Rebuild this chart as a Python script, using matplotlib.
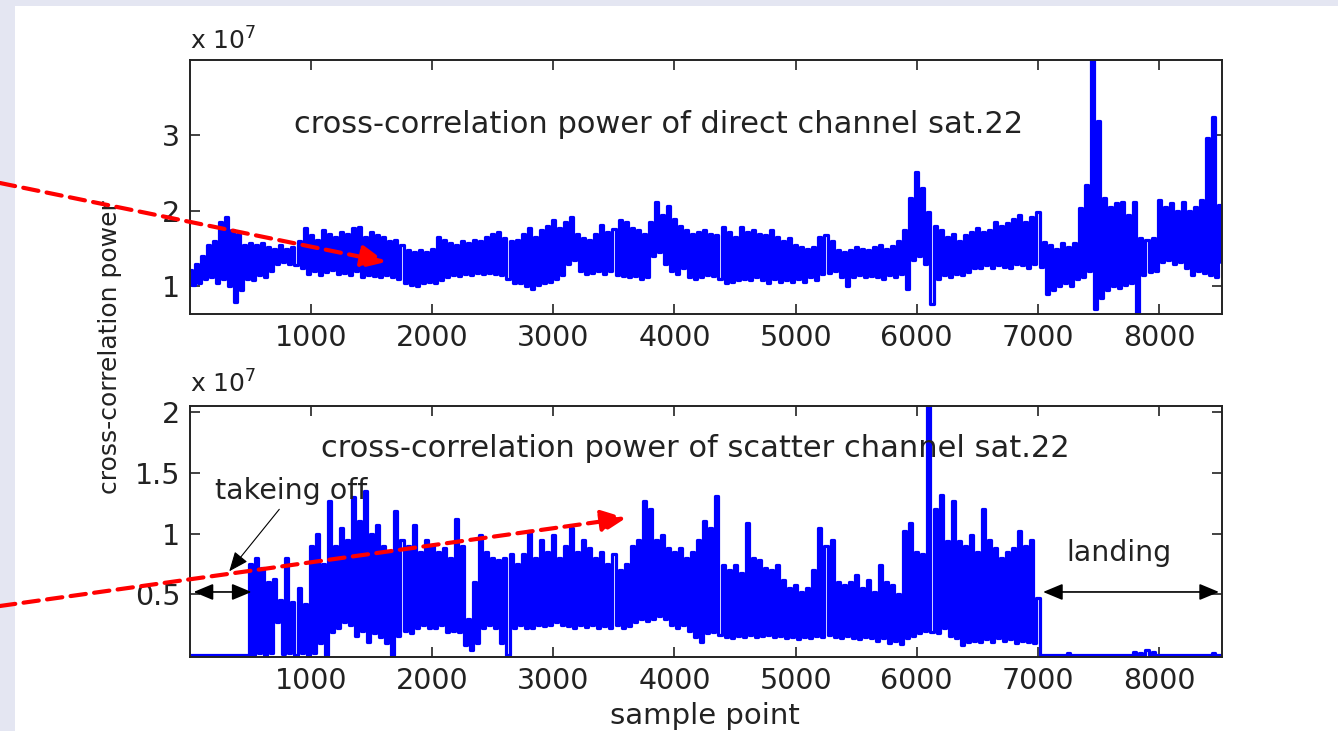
import numpy as np
import matplotlib.pyplot as plt
from matplotlib.patches import Rectangle, FancyArrowPatch

plt.rcParams["font.family"] = "DejaVu Sans"
plt.rcParams["mathtext.default"] = "regular"

# traces, one value every 25 samples, units of 1e7
sample_step = 25
direct_power = [
    1.22, 1.02, 1.30, 1.05, 1.40, 1.10, 1.55, 1.12, 1.60, 1.05, 1.85, 1.10, 1.92, 1.00, 1.75, 0.80, 1.70, 0.95, 1.55, 1.10,
    1.58, 1.08, 1.55, 1.15, 1.58, 1.12, 1.52, 1.20, 1.50, 1.30, 1.55, 1.32, 1.50, 1.30, 1.52, 1.28, 1.60, 1.25, 1.77, 1.17,
    1.68, 1.20, 1.62, 1.15, 1.75, 1.19, 1.70, 1.22, 1.66, 1.17, 1.72, 1.18, 1.70, 1.15, 1.78, 1.20, 1.79, 1.12, 1.65, 1.15,
    1.72, 1.14, 1.68, 1.12, 1.66, 1.15, 1.60, 1.12, 1.62, 1.10, 1.55, 1.05, 1.48, 1.02, 1.45, 1.01, 1.48, 1.04, 1.45, 1.06,
    1.50, 1.04, 1.66, 1.08, 1.62, 1.12, 1.58, 1.15, 1.55, 1.14, 1.60, 1.16, 1.58, 1.15, 1.62, 1.18, 1.60, 1.16, 1.65, 1.18,
    1.70, 1.17, 1.72, 1.15, 1.64, 1.10, 1.60, 1.05, 1.62, 1.04, 1.70, 1.00, 1.77, 0.97, 1.65, 1.02, 1.75, 1.04, 1.80, 1.06,
    1.88, 1.10, 1.78, 1.15, 1.85, 1.30, 1.92, 1.35, 1.70, 1.20, 1.64, 1.17, 1.62, 1.18, 1.70, 1.20, 1.81, 1.17, 1.72, 1.20,
    1.76, 1.15, 1.88, 1.14, 1.85, 1.12, 1.78, 1.14, 1.75, 1.10, 1.70, 1.12, 1.85, 1.40, 2.12, 1.45, 1.95, 1.30, 2.06, 1.20,
    1.90, 1.17, 1.80, 1.25, 1.75, 1.12, 1.70, 1.10, 1.72, 1.12, 1.75, 1.15, 1.70, 1.14, 1.68, 1.10, 1.79, 1.04, 1.72, 1.06,
    1.65, 1.08, 1.79, 1.10, 1.72, 1.08, 1.75, 1.12, 1.70, 1.08, 1.68, 1.04, 1.75, 1.10, 1.65, 1.06, 1.60, 1.08, 1.64, 1.06,
    1.55, 1.10, 1.52, 1.06, 1.50, 1.12, 1.52, 1.08, 1.65, 1.16, 1.68, 1.18, 1.60, 1.20, 1.48, 1.12, 1.45, 1.01, 1.48, 1.12,
    1.52, 1.15, 1.50, 1.12, 1.48, 1.14, 1.52, 1.12, 1.55, 1.10, 1.50, 1.15, 1.54, 1.12, 1.60, 1.16, 1.75, 0.97, 2.17, 1.35,
    2.52, 1.40, 2.30, 1.30, 1.99, 0.77, 1.80, 1.10, 1.75, 1.15, 1.65, 1.12, 1.69, 1.17, 1.60, 1.15, 1.68, 1.19, 1.72, 1.24,
    1.77, 1.25, 1.72, 1.28, 1.75, 1.24, 1.86, 1.28, 1.80, 1.26, 1.84, 1.25, 1.90, 1.30, 1.95, 1.28, 1.85, 1.24, 1.92, 1.30,
    1.99, 1.26, 1.59, 0.90, 1.55, 0.95, 1.50, 1.01, 1.57, 1.05, 1.52, 1.01, 1.57, 1.10, 2.04, 1.12, 2.35, 1.20, 4.00, 0.70,
    3.19, 0.85, 2.17, 0.95, 2.05, 1.01, 2.10, 0.98, 2.12, 1.02, 1.95, 1.05, 2.12, 0.63, 1.64, 1.15, 1.62, 1.19, 1.64, 1.20,
    2.15, 1.32, 2.05, 1.35, 2.10, 1.30, 2.00, 1.32, 2.12, 1.25, 2.00, 1.15, 2.05, 1.20, 2.15, 1.18, 2.97, 1.15, 3.24, 1.12,
    2.08, 1.32,
]
scatter_power = [
    0.00, 0.00, 0.00, 0.00, 0.00, 0.00, 0.00, 0.00, 0.00, 0.00, 0.00, 0.00, 0.00, 0.00, 0.00, 0.00, 0.00, 0.00, 0.00, 0.00,
    0.75, 0.00, 0.80, 0.02, 0.72, 0.00, 0.60, 0.02, 0.63, 0.27, 0.45, 0.01, 0.80, 0.02, 0.44, 0.00, 0.55, 0.02, 0.42, 0.00,
    0.90, 0.02, 1.00, 0.10, 0.75, 0.00, 1.27, 0.19, 0.90, 0.22, 1.05, 0.27, 0.95, 0.25, 1.30, 0.16, 1.10, 0.20, 1.35, 0.11,
    1.00, 0.18, 1.07, 0.15, 0.90, 0.10, 0.85, 0.00, 1.19, 0.16, 0.95, 0.20, 0.90, 0.18, 1.07, 0.22, 0.85, 0.25, 0.95, 0.22,
    0.91, 0.22, 0.85, 0.25, 0.88, 0.19, 0.80, 0.20, 1.12, 0.19, 0.90, 0.08, 0.30, 0.04, 0.60, 0.10, 0.99, 0.22, 0.85, 0.25,
    0.80, 0.22, 0.78, 0.10, 0.80, 0.00, 0.83, 0.22, 0.75, 0.25, 0.83, 0.22, 1.02, 0.22, 0.80, 0.25, 0.95, 0.24, 0.85, 0.25,
    0.99, 0.27, 0.80, 0.25, 0.90, 0.24, 1.05, 0.22, 0.85, 0.25, 0.95, 0.23, 0.88, 0.25, 0.80, 0.22, 0.85, 0.24, 0.75, 0.22,
    0.83, 0.25, 0.70, 0.22, 0.75, 0.24, 0.90, 0.27, 0.95, 0.30, 1.27, 0.28, 1.20, 0.30, 0.95, 0.32, 0.99, 0.30, 0.88, 0.25,
    0.85, 0.22, 0.88, 0.25, 0.80, 0.20, 0.85, 0.15, 0.95, 0.11, 1.10, 0.18, 1.05, 0.19, 1.31, 0.17, 0.74, 0.15, 0.70, 0.14,
    0.74, 0.16, 0.68, 0.15, 1.09, 0.17, 0.80, 0.15, 0.78, 0.16, 0.72, 0.17, 0.70, 0.15, 0.74, 0.16, 0.62, 0.14, 0.55, 0.15,
    0.58, 0.13, 0.52, 0.15, 0.55, 0.14, 0.70, 0.16, 1.05, 0.15, 0.90, 0.17, 0.95, 0.15, 0.60, 0.14, 0.58, 0.16, 0.60, 0.14,
    0.66, 0.13, 0.55, 0.15, 0.62, 0.14, 0.52, 0.12, 0.74, 0.14, 0.60, 0.10, 0.58, 0.12, 0.50, 0.09, 1.02, 0.14, 1.09, 0.16,
    0.85, 0.18, 0.83, 0.20, 2.05, 0.19, 1.20, 0.18, 1.32, 0.22, 0.94, 0.16, 1.27, 0.14, 0.94, 0.08, 0.90, 0.11, 0.99, 0.12,
    0.85, 0.11, 1.20, 0.13, 0.95, 0.11, 0.88, 0.14, 0.80, 0.12, 0.85, 0.13, 0.88, 0.10, 1.02, 0.12, 0.90, 0.11, 0.95, 0.10,
    0.47, 0.00, 0.00, 0.00, 0.00, 0.00, 0.00, 0.00, 0.00, 0.00, 0.02, 0.00, 0.00, 0.00, 0.00, 0.00, 0.00, 0.00, 0.00, 0.00,
    0.00, 0.00, 0.00, 0.00, 0.00, 0.00, 0.00, 0.00, 0.00, 0.00, 0.00, 0.00, 0.03, 0.00, 0.02, 0.00, 0.04, 0.00, 0.03, 0.00,
    0.00, 0.00, 0.00, 0.00, 0.00, 0.00, 0.00, 0.00, 0.00, 0.00, 0.00, 0.00, 0.00, 0.00, 0.00, 0.00, 0.00, 0.00, 0.02, 0.00,
    0.00, 0.00,
]
x_ticks = [1000, 2000, 3000, 4000, 5000, 6000, 7000, 8000]
direct_yticks = [1, 2, 3]
scatter_yticks = [0.5, 1, 1.5, 2]
scatter_ylabels = ["0.5", "1", "1.5", "2"]

W, H = 1338, 731
ink = "#222222"
fig = plt.figure(figsize=(W / 100, H / 100), dpi=100, facecolor="#e4e6f2")
fig.add_artist(Rectangle((15 / W, 0), 1, 1 - 6 / H, transform=fig.transFigure,
                         facecolor="white", edgecolor="none", zorder=-10))

ax1 = fig.add_axes([190 / W, 1 - 314 / H, 1032 / W, 254 / H])
ax2 = fig.add_axes([190 / W, 1 - 657 / H, 1032 / W, 251 / H])

for ax, power in [(ax1, direct_power), (ax2, scatter_power)]:
    samples = 1 + sample_step * np.arange(len(power))
    ax.plot(samples, power, color="#0000ff", lw=2.3, drawstyle="steps-mid")
    ax.set_xlim(1, 8520)
    ax.set_xticks(x_ticks)
    ax.tick_params(direction="in", top=True, right=True, length=7, width=1.2,
                   labelsize=20.5, pad=7, colors=ink)
    for sp in ax.spines.values():
        sp.set_linewidth(1.4)
        sp.set_color(ink)

ax1.set_ylim(0.635, 4.0)
ax1.set_yticks(direct_yticks)
ax2.set_ylim(-0.015, 2.05)
ax2.set_yticks(scatter_yticks)
ax2.set_yticklabels(scatter_ylabels)

ax1.text(3867, 3.15, "cross-correlation power of direct channel sat.22",
         ha="center", va="center", fontsize=22, color=ink)
ax2.text(4170, 1.70, "cross-correlation power of scatter channel sat.22",
         ha="center", va="center", fontsize=22, color=ink)

fig.text(190 / W, 1 - 41 / H, r"x 10$^{7}$", fontsize=18, va="center", color=ink)
fig.text(190 / W, 1 - 384 / H, r"x 10$^{7}$", fontsize=18, va="center", color=ink)
fig.text(110 / W, 1 - 347 / H, "cross-correlation power", rotation=90,
         ha="center", va="center", fontsize=18, color=ink)
fig.text(705 / W, 1 - 716 / H, "sample point", ha="center", va="center",
         fontsize=21, color=ink)

# phase markers on the scatter channel
ax2.text(210, 1.35, "takeing off", ha="left", va="center", fontsize=20.5, color=ink)
ax2.annotate("", xy=(325, 0.69), xytext=(738, 1.20),
             arrowprops=dict(arrowstyle="-|>,head_length=0.6,head_width=0.25",
                             color="black", lw=0.8, shrinkA=0, shrinkB=0, mutation_scale=20))
ax2.annotate("", xy=(31, 0.52), xytext=(509, 0.52),
             arrowprops=dict(arrowstyle="<|-|>,head_length=0.6,head_width=0.25",
                             color="black", lw=1.2, shrinkA=0, shrinkB=0, mutation_scale=20))
ax2.text(7670, 0.84, "landing", ha="center", va="center", fontsize=20.5, color=ink)
ax2.annotate("", xy=(7043, 0.52), xytext=(8495, 0.52),
             arrowprops=dict(arrowstyle="<|-|>,head_length=0.6,head_width=0.25",
                             color="black", lw=1.2, shrinkA=0, shrinkB=0, mutation_scale=20))

# red dashed pointers
for start, tip in [((0, 183), (386, 262)), ((0, 606), (626, 518))]:
    arr = FancyArrowPatch((start[0] / W, 1 - start[1] / H), (tip[0] / W, 1 - tip[1] / H),
                          transform=fig.transFigure,
                          arrowstyle="-|>,head_length=0.75,head_width=0.35",
                          mutation_scale=20, color="red", lw=3,
                          linestyle=(0, (3.7, 2.0)), shrinkA=0, shrinkB=0, zorder=5)
    fig.add_artist(arr)

fig.savefig("out.png", dpi=100, facecolor=fig.get_facecolor())
